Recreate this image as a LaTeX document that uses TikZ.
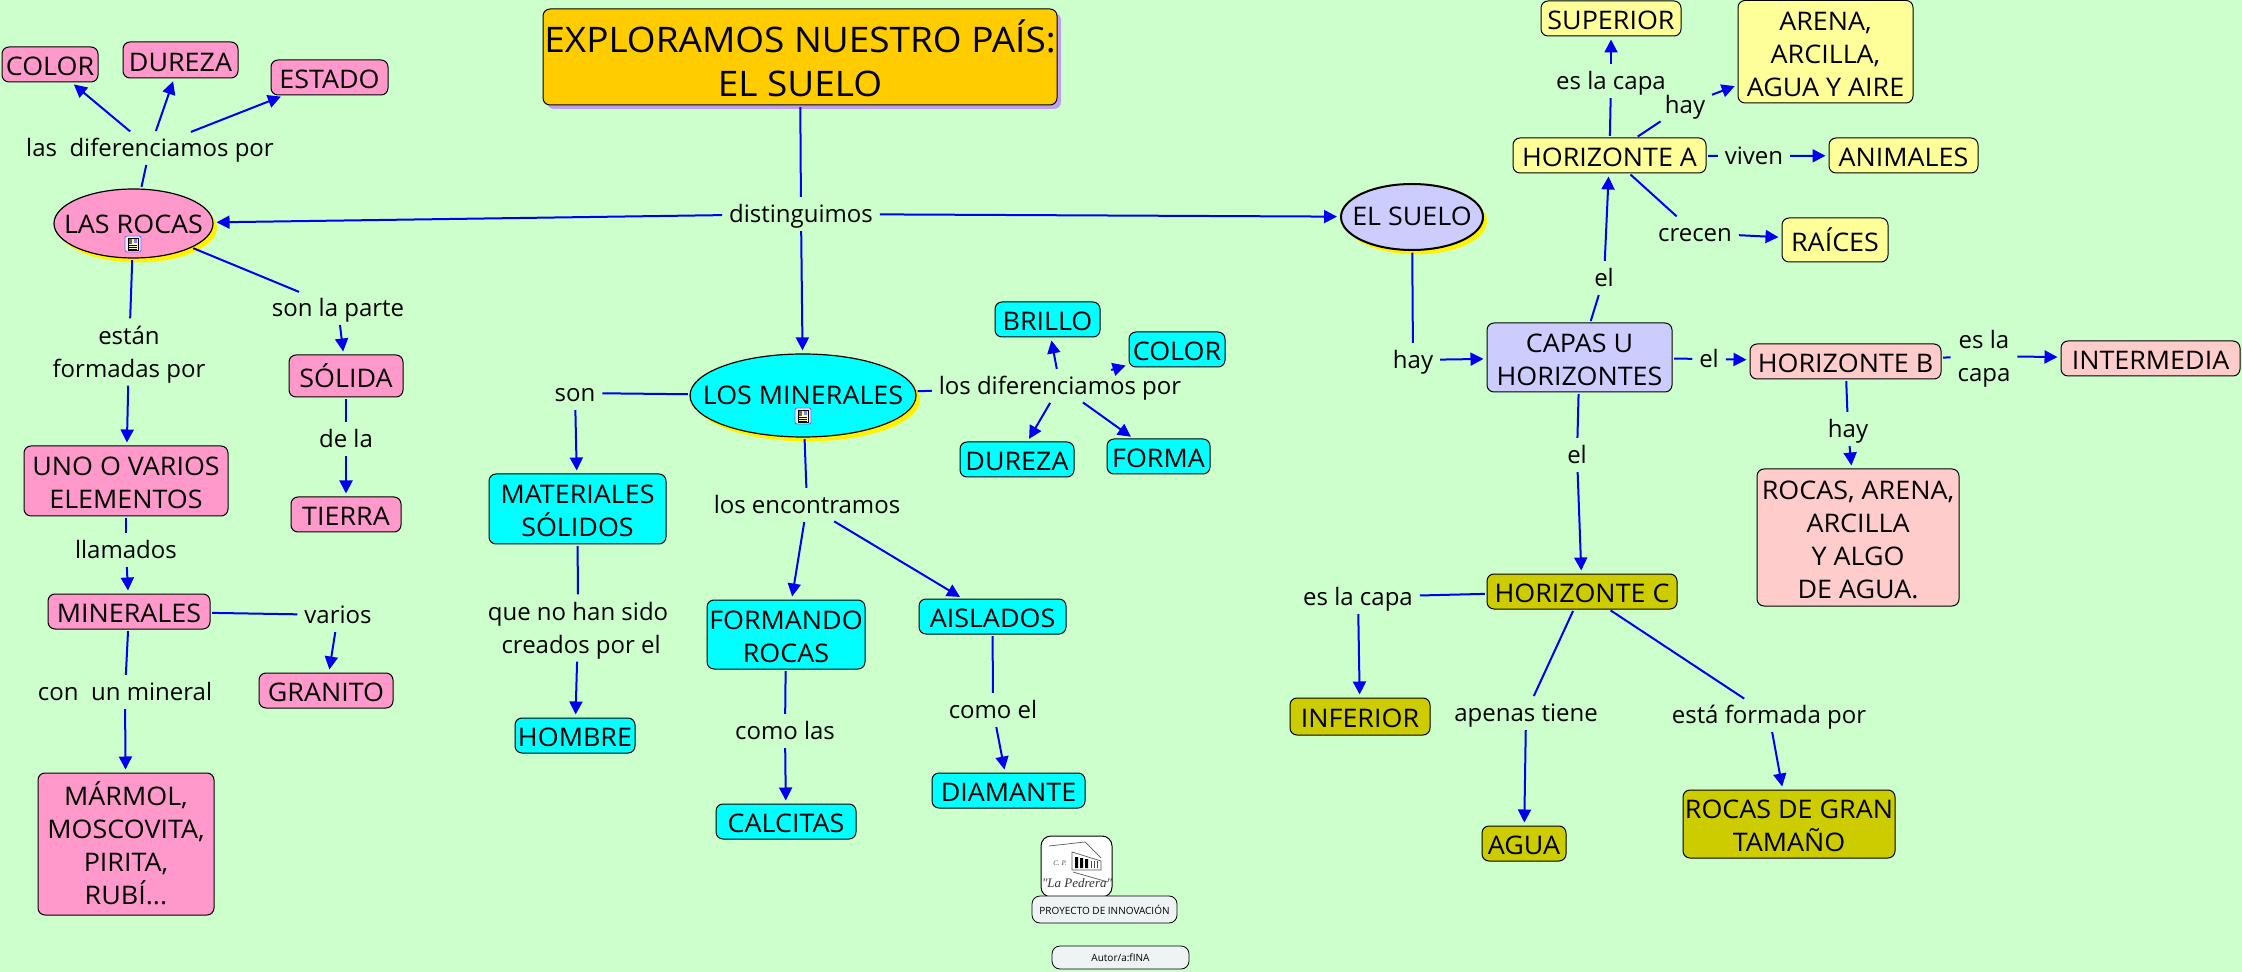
\documentclass[tikz,border=0pt]{standalone}
\usepackage{fontspec}
\setmainfont{Open Sans}
\newfontfamily\capfont[FakeStretch=1.05]{Open Sans}
\newfontfamily\logofont{Liberation Serif}
\usetikzlibrary{arrows.meta,shapes.geometric,shadows}
\definecolor{bgc}{HTML}{CCFFCC}
\definecolor{pinkc}{HTML}{FF99CC}
\definecolor{cyanc}{HTML}{00FFFF}
\definecolor{yelc}{HTML}{FFFF99}
\definecolor{rosec}{HTML}{FFCCCC}
\definecolor{olivec}{HTML}{CCCC00}
\definecolor{lavc}{HTML}{CCCCFF}
\definecolor{goldc}{HTML}{FFCC00}
\definecolor{purc}{HTML}{BFA0F0}
\definecolor{linec}{HTML}{0000F0}
\definecolor{greyc}{HTML}{EEF4F4}
\newcommand\stt{\rule[-3.1pt]{0pt}{15.1pt}}
\newcommand\stc{\rule[-2.7pt]{0pt}{16.7pt}}
\newcommand\mlc{\rule{0pt}{14pt}}
\newcommand\mll{\rule{0pt}{12pt}}
\newcommand\mlt{\rule{0pt}{20.5pt}}
\tikzset{
  txt/.style={font=\capfont\fontsize{12.8}{16.5}\selectfont,align=center,inner sep=0pt,
    execute at begin node=\stc,execute at end node=\stc},
  cpt/.style={txt,draw=black,line width=0.5pt,rounded corners=3.5pt,rectangle},
  oval/.style={font=\capfont\fontsize{12.8}{16.5}\selectfont,inner sep=0pt,draw=black,line width=0.6pt,ellipse,
    drop shadow={shadow xshift=2pt,shadow yshift=-2.2pt,fill=yellow,opacity=1}},
  ttl/.style={font=\capfont\fontsize{17.6}{22}\selectfont,align=center,inner sep=0pt,draw=black,line width=0.5pt,
    rounded corners=3.5pt,fill=goldc,
    execute at begin node=\rule[-3pt]{0pt}{3pt},
    drop shadow={shadow xshift=2pt,shadow yshift=-2pt,fill=purc,opacity=1}},
  lab/.style={font=\fontsize{12}{16.5}\selectfont,align=center,inner ysep=0pt,inner xsep=2.5pt,
    execute at begin node=\stt,execute at end node=\stt},
  conn/.style={draw=linec,line width=1pt,shorten <=0.8pt,shorten >=0.8pt},
  arr/.style={conn,-{Triangle[length=6.5pt,width=6.5pt]},shorten >=1.5pt},
  small/.style={draw=black,line width=0.4pt,rounded corners=4pt,fill=greyc,inner sep=0pt,
    font=\fontsize{5}{6}\selectfont},
  icn/.style={draw=blue!60!white,line width=0.4pt,rounded corners=1pt,fill=blue!8!white,minimum size=8pt,inner sep=0pt},
  sk/.style={draw=black!65,line width=0.35pt},
}
\newcommand\kbox[7]{%
  \pgfmathsetmacro\kcx{(#3+#4)/2}\pgfmathsetmacro\kcy{(#5+#6)/2}%
  \pgfmathsetmacro\kww{(#4-#3)*0.5}\pgfmathsetmacro\khh{(#6-#5)*0.5}%
  \node[#2,minimum width=\kww pt,minimum height=\khh pt] (#1) at (\kcx,\kcy) {#7};}
\newcommand\docicon[3]{%
  \node[icn] (#1) at (#2,#3) {};
  \fill[yellow!35] (#2-5,#3-6) rectangle (#2+5,#3+6);
  \draw[black,line width=0.25pt] (#2-5,#3-6) rectangle (#2+5,#3+6);
  \fill[black!60] (#2-4,#3-5) rectangle (#2-1,#3);
  \fill[blue!50] (#2+1,#3-5) rectangle (#2+4,#3-1);
  \draw[black,line width=0.3pt] (#2-4,#3+1) -- (#2+4,#3+1) (#2-4,#3+3) -- (#2+4,#3+3) (#2-4,#3+5) -- (#2+4,#3+5);}
\begin{document}
\begin{tikzpicture}[x=0.5pt,y=-0.5pt]
\useasboundingbox (0,0) rectangle (2242,972);
\fill[bgc] (0,0) rectangle (2242,972);
% title
\kbox{title}{ttl}{543}{1057}{9}{105}{\mlt EXPLORAMOS NUESTRO PAÍS:\\EL SUELO}
% ellipses
\kbox{las}{oval,fill=pinkc}{54}{213}{189}{258}{\makebox[0pt]{\raisebox{-5pt}[0pt][0pt]{LAS ROCAS}}}
\kbox{mins}{oval,fill=cyanc}{690}{916}{354}{437}{\makebox[0pt]{\raisebox{-4.5pt}[0pt][0pt]{LOS MINERALES}}}
\kbox{suelo}{oval,fill=lavc,line width=1pt}{1341}{1483}{184}{250}{\makebox[0pt]{\raisebox{-4.5pt}[0pt][0pt]{EL SUELO}}}
\docicon{ic1}{133}{244}
\docicon{ic2}{803}{416}
% pink
\kbox{color1}{cpt,fill=pinkc}{2}{98}{47}{82}{COLOR}
\kbox{dureza1}{cpt,fill=pinkc}{123}{238}{42}{78}{DUREZA}
\kbox{estado}{cpt,fill=pinkc}{271}{388}{60}{95}{ESTADO}
\kbox{solida}{cpt,fill=pinkc}{289}{403}{355}{397}{SÓLIDA}
\kbox{tierra}{cpt,fill=pinkc}{291}{401}{497}{532}{TIERRA}
\kbox{uno}{cpt,fill=pinkc}{24}{228}{446}{516}{\mlc UNO O VARIOS\\ELEMENTOS}
\kbox{minerales}{cpt,fill=pinkc}{48}{210}{594}{629}{MINERALES}
\kbox{granito}{cpt,fill=pinkc}{259}{393}{673}{708}{GRANITO}
\kbox{marmol}{cpt,fill=pinkc}{38}{214}{773}{915}{\mlc MÁRMOL,\\MOSCOVITA,\\PIRITA,\\RUBÍ...}
% cyan
\kbox{materiales}{cpt,fill=cyanc}{489}{666}{474}{544}{\mlc MATERIALES\\SÓLIDOS}
\kbox{hombre}{cpt,fill=cyanc}{515}{635}{718}{753}{HOMBRE}
\kbox{formando}{cpt,fill=cyanc}{707}{865}{600}{669}{\mlc FORMANDO\\ROCAS}
\kbox{calcitas}{cpt,fill=cyanc}{716}{856}{804}{839}{CALCITAS}
\kbox{aislados}{cpt,fill=cyanc}{919}{1066}{599}{634}{AISLADOS}
\kbox{diamante}{cpt,fill=cyanc}{932}{1085}{773}{808}{DIAMANTE}
\kbox{brillo}{cpt,fill=cyanc}{995}{1100}{302}{337}{BRILLO}
\kbox{color2}{cpt,fill=cyanc}{1129}{1225}{332}{367}{COLOR}
\kbox{dureza2}{cpt,fill=cyanc}{960}{1074}{442}{477}{DUREZA}
\kbox{forma}{cpt,fill=cyanc}{1107}{1210}{439}{474}{FORMA}
% right
\kbox{superior}{cpt,fill=yelc}{1541}{1681}{1}{36}{SUPERIOR}
\kbox{arena}{cpt,fill=yelc}{1738}{1913}{0.5}{103}{\mlc ARENA,\\ARCILLA,\\AGUA Y AIRE}
\kbox{hora}{cpt,fill=yelc}{1513}{1706}{138}{173}{HORIZONTE A}
\kbox{animales}{cpt,fill=yelc}{1829}{1978}{138}{173}{ANIMALES}
\kbox{raices}{cpt,fill=yelc}{1782}{1888}{218}{262}{RAÍCES}
\kbox{capas}{cpt,fill=lavc}{1487}{1672}{323}{392}{\mlc CAPAS U\\HORIZONTES}
\kbox{horb}{cpt,fill=rosec}{1750}{1941}{344}{379}{HORIZONTE B}
\kbox{inter}{cpt,fill=rosec}{2061}{2240}{341}{376}{INTERMEDIA}
\kbox{rocasa}{cpt,fill=rosec}{1757}{1959}{469}{606}{\mlc ROCAS, ARENA,\\ARCILLA\\Y ALGO\\DE AGUA.}
\kbox{horc}{cpt,fill=olivec}{1487}{1677}{574}{609}{HORIZONTE C}
\kbox{inferior}{cpt,fill=olivec}{1290}{1430}{698}{735}{INFERIOR}
\kbox{agua}{cpt,fill=olivec}{1482}{1566}{826}{861}{AGUA}
\kbox{rocasg}{cpt,fill=olivec}{1683}{1895}{790}{858}{\mlc ROCAS DE GRAN\\TAMAÑO}
% labels
\node[lab] (l1) at (150,148) {las\ \ diferenciamos por};
\node[lab] (l2) at (338,308) {son la parte};
\node[lab] (l3) at (129,352) {\mll están\\formadas por};
\node[lab] (l4) at (346,439) {de la};
\node[lab] (l5) at (126,550) {llamados};
\node[lab] (l6) at (338,615) {varios};
\node[lab] (l7) at (125,692) {con\ \ un mineral};
\node[lab] (d0) at (801,214) {distinguimos};
\node[lab] (m1) at (575,393) {son};
\node[lab] (m2) at (578,628) {\mll que no han sido\\\ creados por el};
\node[lab] (m3) at (807,505) {los encontramos};
\node[lab] (m4) at (785,731) {como las};
\node[lab] (m5) at (993,710) {como el};
\node[lab] (m6) at (1060,386) {los diferenciamos por};
\node[lab] (s1) at (1413,360) {hay};
\node[lab] (s2) at (1604,278) {el};
\node[lab] (s3) at (1709,359) {el};
\node[lab] (s4) at (1577,455) {el};
\node[lab] (a1) at (1611,81) {es la capa};
\node[lab] (a2) at (1685,105) {hay};
\node[lab] (a3) at (1754,156) {viven};
\node[lab] (a4) at (1695,233) {crecen};
\node[lab] (b1) at (1984,356) {\mll es la\\capa};
\node[lab] (b2) at (1848,429) {hay};
\node[lab] (c1) at (1358,597) {es la capa};
\node[lab] (c2) at (1526,713) {apenas tiene};
\node[lab] (c3) at (1769,715) {está formada por};
% connectors
\draw[conn] (las) -- (l1);
\draw[arr] (l1) -- (color1);
\draw[arr] (l1) -- (dureza1);
\draw[arr] (l1) -- (estado);
\draw[conn] (las) -- (l2);
\draw[arr] (l2) -- (solida);
\draw[conn] (solida) -- (l4);
\draw[arr] (l4) -- (tierra);
\draw[conn] (las) -- (l3);
\draw[arr] (l3) -- (uno);
\draw[conn] (uno) -- (l5);
\draw[arr] (l5) -- (minerales);
\draw[conn] (minerales) -- (l6);
\draw[arr] (l6) -- (granito);
\draw[conn] (minerales) -- (l7);
\draw[arr] (l7) -- (marmol);
\draw[conn] (title) -- (d0);
\draw[arr] (d0) -- (las);
\draw[arr] (d0) -- (mins);
\draw[arr] (d0) -- (suelo);
\draw[conn] (mins) -- (m1);
\draw[arr] (m1) -- (materiales);
\draw[conn] (materiales) -- (m2);
\draw[arr] (m2) -- (hombre);
\draw[conn] (mins) -- (m3);
\draw[arr] (m3) -- (formando);
\draw[arr] (m3) -- (aislados);
\draw[conn] (formando) -- (m4);
\draw[arr] (m4) -- (calcitas);
\draw[conn] (aislados) -- (m5);
\draw[arr] (m5) -- (diamante);
\draw[conn] (mins) -- (m6);
\draw[arr] (m6) -- (brillo);
\draw[arr] (m6) -- (color2);
\draw[arr] (m6) -- (dureza2);
\draw[arr] (m6) -- (forma);
\draw[conn] (suelo) -- (s1);
\draw[arr] (s1) -- (capas);
\draw[conn] (capas) -- (s2);
\draw[arr] (s2) -- (hora);
\draw[conn] (capas) -- (s3);
\draw[arr] (s3) -- (horb);
\draw[conn] (capas) -- (s4);
\draw[arr] (s4) -- (horc);
\draw[conn] (hora) -- (a1);
\draw[arr] (a1) -- (superior);
\draw[conn] (hora) -- (a2);
\draw[arr] (a2) -- (arena);
\draw[conn] (hora) -- (a3);
\draw[arr] (a3) -- (animales);
\draw[conn] (hora) -- (a4);
\draw[arr] (a4) -- (raices);
\draw[conn] (horb) -- (b1);
\draw[arr] (b1) -- (inter);
\draw[conn] (horb) -- (b2);
\draw[arr] (b2) -- (rocasa);
\draw[conn] (horc) -- (c1);
\draw[arr] (c1) -- (inferior);
\draw[conn] (horc) -- (c2);
\draw[arr] (c2) -- (agua);
\draw[conn] (horc) -- (c3);
\draw[arr] (c3) -- (rocasg);
% logo
\kbox{logo}{draw=black,line width=0.5pt,rounded corners=5pt,fill=white}{1041}{1112}{836}{897}{}
\draw[sk] (1049,846) -- (1085,842) -- (1101,858);
\draw[sk] (1072,870) -- (1072,852) -- (1101,861) -- (1101,870) -- cycle;
\draw[sk] (1073,872) -- (1108,882);
\fill[black] (1075,857) rectangle (1078,868) (1080,858) rectangle (1083,868) (1085,859) rectangle (1088,868);
\draw[black!70,line width=0.5pt] (1091,861) -- (1091,868) (1094,861) -- (1094,868) (1097,861) -- (1097,868);
\node[inner sep=0pt,font=\logofont\itshape\fontsize{3.5}{4}\selectfont,text=black!70] (logoa) at (1060,863) {C. P.};
\node[inner sep=0pt,font=\logofont\itshape\fontsize{6.5}{7}\selectfont,text=black!80] (logob) at (1077,883) {"La Pedrera"};
\kbox{proy}{small}{1032}{1177}{896}{923}{PROYECTO DE INNOVACIÓN}
\kbox{autor}{small}{1052}{1189}{946}{969}{Autor/a:fINA}
\end{tikzpicture}
\end{document}
